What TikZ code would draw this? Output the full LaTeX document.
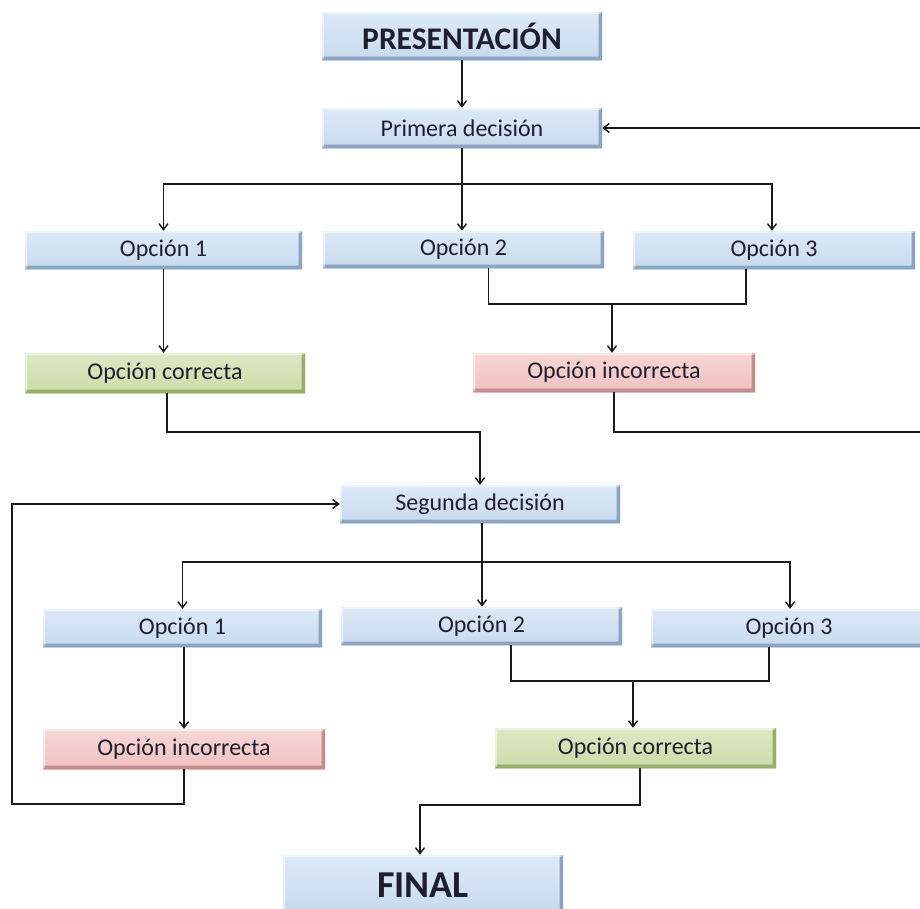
\documentclass[tikz,border=0pt]{standalone}
\usepackage{fontspec}
\setmainfont{Carlito}
\usetikzlibrary{arrows.meta,calc}
\definecolor{bluefillT}{HTML}{DDE9F7}
\definecolor{bluefillB}{HTML}{C8D9EE}
\definecolor{bluedark}{HTML}{8CA3C2}
\definecolor{greenfillT}{HTML}{DDE8C4}
\definecolor{greenfillB}{HTML}{CCDCA8}
\definecolor{greendark}{HTML}{98AD6C}
\definecolor{pinkfillT}{HTML}{F8D6D6}
\definecolor{pinkfillB}{HTML}{F0C0C0}
\definecolor{pinkdark}{HTML}{C08C8C}
\definecolor{txt}{HTML}{1E1E2E}
\definecolor{linecol}{HTML}{1A1A1A}
\tikzset{
  bevel/.style={path picture={
    \fill[#1] ([xshift=-3.5pt]path picture bounding box.north east) -- (path picture bounding box.north east)
      -- (path picture bounding box.south east) -- (path picture bounding box.south west)
      -- ([yshift=3.5pt]path picture bounding box.south west)
      -- ([shift={(-3.5pt,3.5pt)}]path picture bounding box.south east) -- cycle;
    \fill[white,opacity=0.5] (path picture bounding box.south west) -- (path picture bounding box.north west)
      -- (path picture bounding box.north east) -- ([xshift=-2pt,yshift=-2pt]path picture bounding box.north east)
      -- ([xshift=2pt,yshift=-2pt]path picture bounding box.north west)
      -- ([xshift=2pt,yshift=2pt]path picture bounding box.south west) -- cycle;
  }},
  basebox/.style={rectangle, inner sep=0pt, text=txt, font=\fontsize{24}{28}\selectfont},
  bluebox/.style={basebox, top color=bluefillT, bottom color=bluefillB, bevel=bluedark},
  greenbox/.style={basebox, top color=greenfillT, bottom color=greenfillB, bevel=greendark},
  pinkbox/.style={basebox, top color=pinkfillT, bottom color=pinkfillB, bevel=pinkdark},
  conn/.style={draw=linecol, line width=1.6pt},
  arr/.style={conn, -{Straight Barb[length=6pt,width=9pt,line width=1.4pt]}},
}
\begin{document}
\begin{tikzpicture}[x=1pt,y=-1pt]
\useasboundingbox (0,0) rectangle (920,908);
\clip (0,0) rectangle (920,908);
\fill[white] (0,0) rectangle (920,908);

% nodes
\node[bluebox, minimum width=280, minimum height=48, font=\fontsize{31.5}{34}\selectfont\bfseries] (pres) at (462,36) {PRESENTACIÓN};
\node[bluebox, minimum width=280, minimum height=40] (prim) at (462,128) {Primera decisión};
\node[bluebox, minimum width=277, minimum height=38] (o11) at (163.5,250) {Opción 1};
\node[bluebox, minimum width=281, minimum height=37] (o12) at (463.5,249.5) {Opción 2};
\node[bluebox, minimum width=282, minimum height=38] (o13) at (774,250) {Opción 3};
\node[greenbox, minimum width=280, minimum height=40] (c1) at (165,373) {Opción correcta};
\node[pinkbox, minimum width=282, minimum height=39] (i1) at (614,372.5) {Opción incorrecta};
\node[bluebox, minimum width=280, minimum height=38] (seg) at (480,504) {Segunda decisión};
\node[bluebox, minimum width=279, minimum height=38] (o21) at (182.5,628) {Opción 1};
\node[bluebox, minimum width=281, minimum height=38] (o22) at (481.5,626) {Opción 2};
\node[bluebox, minimum width=276, minimum height=38] (o23) at (789,628) {Opción 3};
\node[pinkbox, minimum width=282, minimum height=40] (i2) at (184,749) {Opción incorrecta};
\node[greenbox, minimum width=281, minimum height=40] (c2) at (635.5,748) {Opción correcta};
\node[bluebox, minimum width=280, minimum height=60, font=\fontsize{38}{42}\selectfont\bfseries] (fin) at (423,885) {FINAL};

% helper coordinates
\coordinate (b1) at (462,184);
\coordinate (j1) at (612,304);
\coordinate (j2) at (480,432);
\coordinate (r1) at (945,432);
\coordinate (r2) at (945,128);
\coordinate (b2) at (482,562);
\coordinate (j3) at (633,681);
\coordinate (l1) at (12,804);
\coordinate (l2) at (12,504);
\coordinate (j4) at (420,805);

% connectors
\draw[arr] (pres) -- (prim);
\draw[arr] (prim.south) -- (prim.south |- o12.north);
\draw[arr] (b1) -| (o11.north);
\draw[arr] (b1) -| ([xshift=-2]o13.north);
\draw[arr] (o11.south) -- (o11.south |- c1.north);
\draw[conn] ([xshift=25]o12.south) |- (j1) -| ([xshift=-28]o13.south);
\draw[arr] (j1) -- (j1 |- i1.north);
\draw[arr] ([xshift=2]c1.south) |- (j2) -- (j2 |- seg.north);
\draw[arr] (i1.south) |- (r1) -- (r2) -- (prim.east);

\draw[arr] ([xshift=2]seg.south) -- ([xshift=2]seg.south |- o22.north);
\draw[arr] (b2) -| (o21.north);
\draw[arr] (b2) -| ([xshift=1]o23.north);
\draw[arr] ([xshift=1.5]o21.south) -- ([xshift=1.5]o21.south |- i2.north);
\draw[conn] ([xshift=29.5]o22.south) |- (j3) -| ([xshift=-20]o23.south);
\draw[arr] (j3) -- (j3 |- c2.north);
\draw[arr] (i2.south) |- (l1) -- (l2) -- (seg.west);
\draw[arr] ([xshift=4.5]c2.south) |- (j4) -- (j4 |- fin.north);
\end{tikzpicture}
\end{document}
